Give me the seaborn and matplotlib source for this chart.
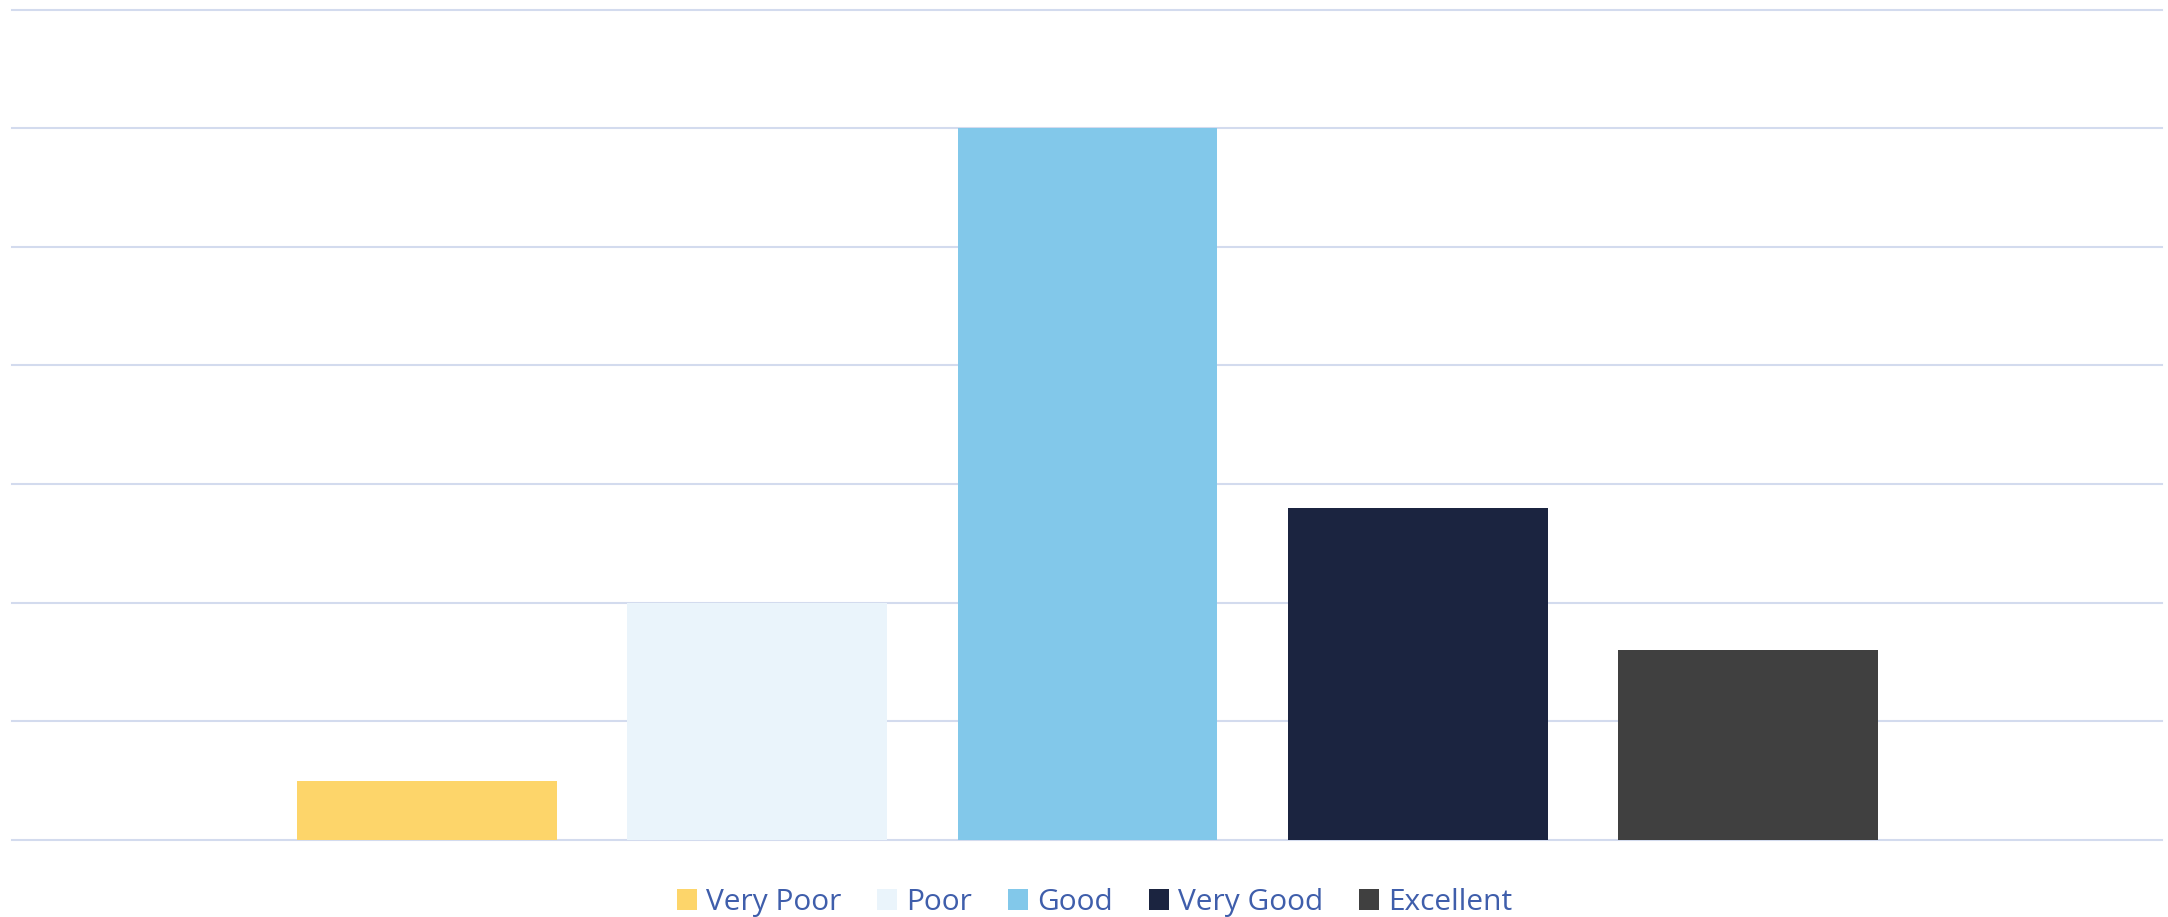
import pandas as pd
import seaborn as sns
import matplotlib.pyplot as plt

# Ratings and their values (gridlines at 1 unit steps)
ratings = ["Very Poor", "Poor", "Good", "Very Good", "Excellent"]
values = [0.5, 2.0, 6.0, 2.8, 1.6]
colors = ["#FDD56A", "#EAF4FB", "#82C8EA", "#1B2440", "#404040"]

df = pd.DataFrame({"rating": ratings, "value": values})

plt.rcParams['font.family'] = ['Open Sans', 'DejaVu Sans']

fig = plt.figure(figsize=(21.68, 9.17), dpi=100)
ax = fig.add_axes([12 / 2168, 1 - 840 / 917, 2150 / 2168, 830.5 / 917])

sns.barplot(data=df, x="rating", y="value", hue="rating", palette=colors,
            width=0.787, saturation=1, legend=True, ax=ax)

ax.set_xlim(-1.256, 5.253)
ax.set_ylim(0, 7)
ax.set_yticks(range(8))
ax.set_axisbelow(True)
ax.yaxis.grid(True, color="#D3DBEE", linewidth=1.5)
for line in ax.get_ygridlines():
    line.set_clip_on(False)
ax.xaxis.grid(False)
for s in ax.spines.values():
    s.set_visible(False)
ax.tick_params(left=False, bottom=False, labelleft=False, labelbottom=False)
ax.set_xlabel("")
ax.set_ylabel("")

sns.move_legend(ax, "center", bbox_to_anchor=(0.5035, -0.075), ncol=5,
                frameon=False, title=None, fontsize=21.5, labelcolor="#3F5EAB",
                handlelength=0.68, handleheight=0.68, handletextpad=0.3,
                columnspacing=1.2)

plt.savefig("out.png", dpi=100)
